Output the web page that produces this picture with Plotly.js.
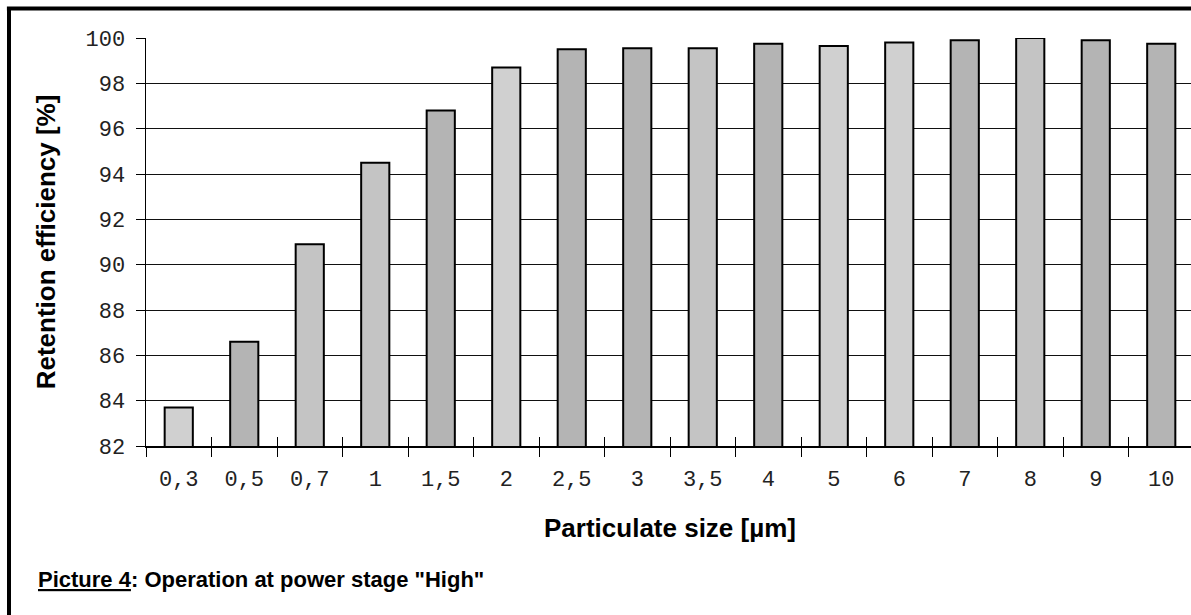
<!DOCTYPE html>
<html>
<head>
<meta charset="utf-8">
<script src="https://cdn.plot.ly/plotly-3.0.1.min.js"></script>
<style>
html, body { margin: 0; padding: 0; background: #fff; overflow: hidden; }
#chart { width: 1196px; height: 615px; }
</style>
</head>
<body>
<div id="chart"></div>
<script>
var categories = ["0,3", "0,5", "0,7", "1", "1,5", "2", "2,5", "3", "3,5", "4", "5", "6", "7", "8", "9", "10"];
var efficiency = [83.7, 86.6, 90.9, 94.5, 96.8, 98.7, 99.5, 99.55, 99.55, 99.75, 99.65, 99.8, 99.9, 100, 99.9, 99.75];
var barColors = ["#d0d0d0", "#b4b4b4", "#c4c4c4", "#c4c4c4", "#b4b4b4", "#d0d0d0", "#b4b4b4", "#b4b4b4",
                 "#c4c4c4", "#b4b4b4", "#d0d0d0", "#d0d0d0", "#b4b4b4", "#c4c4c4", "#b4b4b4", "#b4b4b4"];
var yTicks = [82, 84, 86, 88, 90, 92, 94, 96, 98, 100];

var tickFont = { family: "Liberation Mono, Courier New, monospace", size: 22, color: "#222" };
var boldFont = { family: "Liberation Sans, Arial, sans-serif", size: 26, color: "#000" };

var traces = [
  {
    type: "bar",
    x: categories,
    y: efficiency,
    width: 0.43,
    marker: { color: barColors, line: { color: "#000", width: 2 } },
    hoverinfo: "x+y"
  },
  {
    type: "bar",
    x: categories,
    y: efficiency,
    xaxis: "x2",
    width: 0.43,
    opacity: 0,
    hoverinfo: "skip",
    showlegend: false
  }
];

var fullW = 1196 - 146 - 2, fullH = 615 - 38 - 169;
var leftX = (9 - 146) / fullW;
var topY = (fullH + 38 - 8.5) / fullH;

var layout = {
  width: 1196,
  height: 615,
  margin: { l: 146, r: 2, t: 38, b: 169 },
  paper_bgcolor: "#fff",
  plot_bgcolor: "#fff",
  showlegend: false,
  xaxis: {
    type: "category",
    tickson: "boundaries",
    ticks: "outside",
    ticklen: 9,
    tickwidth: 1,
    tickcolor: "#000",
    showline: true,
    linecolor: "#000",
    linewidth: 1.5,
    showgrid: false,
    tickfont: tickFont,
    ticklabelstandoff: 12,
    title: { text: "<b>Particulate size [µm]</b>", font: boldFont, standoff: 27 }
  },
  xaxis2: {
    type: "category",
    overlaying: "x",
    matches: "x",
    side: "bottom",
    tickson: "boundaries",
    ticks: "inside",
    ticklen: 9,
    tickwidth: 1,
    tickcolor: "#000",
    showline: false,
    showgrid: false,
    showticklabels: false
  },
  yaxis: {
    range: [82, 100],
    tickvals: yTicks,
    ticktext: yTicks.map(String),
    ticks: "outside",
    ticklen: 9,
    tickwidth: 1,
    tickcolor: "#000",
    showline: true,
    linecolor: "#000",
    linewidth: 1.5,
    showgrid: true,
    gridcolor: "#111",
    gridwidth: 1,
    zeroline: false,
    tickfont: tickFont,
    ticklabelstandoff: 6,
    title: { text: "<b>Retention efficiency [%]</b>", font: boldFont, standoff: 22 }
  },
  shapes: [
    { type: "line", xref: "paper", yref: "paper", x0: leftX, x1: leftX, y0: topY, y1: -1,
      line: { color: "#000", width: 4 } },
    { type: "line", xref: "paper", yref: "paper", x0: leftX - 0.002, x1: 1.1, y0: topY, y1: topY,
      line: { color: "#000", width: 4 } }
  ],
  annotations: [
    {
      xref: "paper", yref: "paper",
      x: (36 - 146) / fullW, y: (446 - 579) / fullH,
      xanchor: "left", yanchor: "middle",
      showarrow: false,
      text: "<b><u>Picture 4</u>: Operation at power stage \"High\"</b>",
      font: { family: "Liberation Sans, Arial, sans-serif", size: 22, color: "#000" }
    }
  ]
};

Plotly.newPlot("chart", traces, layout, { displayModeBar: false, staticPlot: true });
</script>
</body>
</html>
